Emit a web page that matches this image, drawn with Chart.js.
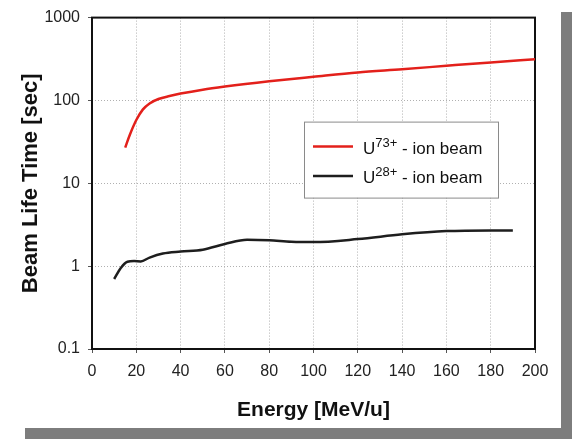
<!DOCTYPE html>
<html>
<head>
<meta charset="utf-8">
<script src="https://cdn.jsdelivr.net/npm/chart.js@4.4.1/dist/chart.umd.min.js"></script>
<style>
  html, body { margin: 0; padding: 0; background: #fff; }
  .page { position: relative; width: 572px; height: 439px; overflow: hidden; }
  .sheet { position: absolute; left: 0; top: 0; width: 561px; height: 428px; background: #fff; }
  .shade-r { position: absolute; left: 561px; top: 12px; width: 11px; height: 427px; background: #7d7d7d; }
  .shade-b { position: absolute; left: 25px; top: 428px; width: 547px; height: 11px; background: #7d7d7d; }
</style>
</head>
<body>
<div class="page">
  <div class="shade-r"></div>
  <div class="shade-b"></div>
  <div class="sheet"><canvas id="lifeChart" width="561" height="428"></canvas></div>
</div>
<script>
const FONT = "'Liberation Sans', Arial, sans-serif";

// U73+ beam
const energyU73 = [15, 17, 20, 23, 26, 30, 35, 40, 50, 60, 80, 100, 120, 140, 160, 180, 200];
const lifeU73 = [27, 38, 58, 78, 92, 104, 113, 121, 135, 147, 170, 193, 218, 238, 262, 288, 315];

// U28+ beam
const energyU28 = [10, 13, 16, 19, 22, 26, 32, 40, 50, 60, 70, 80, 90, 100, 120, 140, 160, 180, 190];
const lifeU28 = [0.70, 0.95, 1.13, 1.15, 1.14, 1.27, 1.42, 1.50, 1.58, 1.85, 2.08, 2.05, 1.97, 1.95, 2.12, 2.42, 2.65, 2.70, 2.70];

const yTickValues = [0.1, 1, 10, 100, 1000];
const seriesLabels = [
  { base: 'U', sup: '73+', rest: ' - ion beam', color: '#e3201b' },
  { base: 'U', sup: '28+', rest: ' - ion beam', color: '#1e1e1e' },
];

const toPoints = (xs, ys) => xs.map((x, i) => ({ x, y: ys[i] }));

// black frame round the plot area, under the curves
const frameBox = {
  id: 'frameBox',
  beforeDatasetsDraw(chart) {
    const { ctx, chartArea: a } = chart;
    ctx.save();
    ctx.strokeStyle = '#111';
    ctx.lineWidth = 2;
    ctx.strokeRect(a.left, a.top, a.right - a.left, a.bottom - a.top);
    ctx.restore();
  },
};

// legend box with superscript charge states
const chargeLegend = {
  id: 'chargeLegend',
  afterDraw(chart) {
    const { ctx, chartArea: a } = chart;
    const bx = a.left + 212;
    const by = a.top + 104;
    ctx.save();
    ctx.fillStyle = '#fff';
    ctx.fillRect(bx, by, 194, 76);
    ctx.strokeStyle = '#8a8a8a';
    ctx.lineWidth = 1;
    ctx.strokeRect(bx + 0.5, by + 0.5, 194, 76);
    seriesLabels.forEach((item, i) => {
      const lineY = by + 25 + i * 29.5;
      const baseY = by + 32 + i * 29.5;
      ctx.strokeStyle = item.color;
      ctx.lineWidth = 2.5;
      ctx.beginPath();
      ctx.moveTo(bx + 9, lineY);
      ctx.lineTo(bx + 49, lineY);
      ctx.stroke();

      ctx.fillStyle = '#111';
      ctx.textBaseline = 'alphabetic';
      let x = bx + 59;
      ctx.font = `17px ${FONT}`;
      ctx.fillText(item.base, x, baseY);
      x += ctx.measureText(item.base).width;
      ctx.font = `13px ${FONT}`;
      ctx.fillText(item.sup, x, baseY - 7);
      x += ctx.measureText(item.sup).width;
      ctx.font = `17px ${FONT}`;
      ctx.fillText(item.rest, x, baseY);
    });
    ctx.restore();
  },
};

const dottedGrid = {
  color: '#b0b0b0',
  tickColor: '#555',
  tickLength: 4,
  tickBorderDash: [],
};

new Chart(document.getElementById('lifeChart'), {
  type: 'line',
  data: {
    datasets: [
      {
        label: 'U73+ - ion beam',
        data: toPoints(energyU73, lifeU73),
        borderColor: seriesLabels[0].color,
        borderWidth: 2.5,
        pointRadius: 0,
        cubicInterpolationMode: 'monotone',
      },
      {
        label: 'U28+ - ion beam',
        data: toPoints(energyU28, lifeU28),
        borderColor: seriesLabels[1].color,
        borderWidth: 2.5,
        pointRadius: 0,
        cubicInterpolationMode: 'monotone',
      },
    ],
  },
  options: {
    responsive: false,
    animation: false,
    layout: { padding: { top: 13, right: 26, bottom: 0, left: 0 } },
    plugins: {
      legend: { display: false },
      tooltip: { enabled: false },
    },
    scales: {
      x: {
        type: 'linear',
        min: 0,
        max: 200,
        afterFit: (scale) => { scale.height = 79; },
        ticks: { stepSize: 20, color: '#222', padding: 9, font: { family: FONT, size: 16 } },
        grid: dottedGrid,
        border: { display: false, dash: [1, 2] },
        title: {
          display: true,
          text: 'Energy [MeV/u]',
          color: '#111',
          padding: { top: 0, bottom: 5 },
          font: { family: FONT, size: 21, weight: 'bold' },
        },
      },
      y: {
        type: 'logarithmic',
        min: 0.1,
        max: 1000,
        afterFit: (scale) => { scale.width = 92; },
        afterBuildTicks: (scale) => {
          scale.ticks = yTickValues.map((value) => ({ value }));
        },
        ticks: {
          color: '#222',
          padding: 8,
          font: { family: FONT, size: 16 },
          callback: (value) => String(value),
        },
        grid: dottedGrid,
        border: { display: false, dash: [1, 2] },
        title: {
          display: true,
          text: 'Beam Life Time [sec]',
          color: '#111',
          padding: { top: 18, bottom: 0 },
          font: { family: FONT, size: 22, weight: 'bold' },
        },
      },
    },
  },
  plugins: [frameBox, chargeLegend],
});
</script>
</body>
</html>
